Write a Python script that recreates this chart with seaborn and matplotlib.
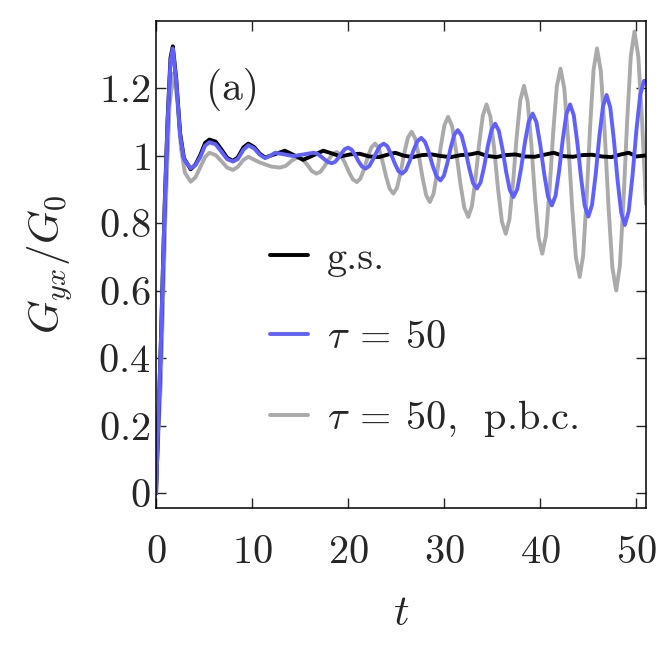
import matplotlib
matplotlib.use('Agg')
import matplotlib.pyplot as plt
import seaborn as sns
import pandas as pd

# values
t_gs = [0.0, 0.5, 0.9, 1.2, 1.5, 1.74, 2.1, 2.5, 2.9, 3.6,
        4.1, 4.6, 5.1, 5.55, 6.2, 6.8, 7.4, 8.0, 8.5, 9.1, 9.6,
        10.2, 10.8, 11.35, 12.4, 13.4, 14.35, 15.3, 16.35, 17.4, 18.3, 19.2,
        20.2, 21.2, 22.2, 23.2, 24.2, 24.9, 25.7, 26.7, 27.7, 28.7, 29.7, 30.7,
        31.7, 32.7, 33.5, 34.4, 35.4, 36.4, 37.4, 38.4, 39.4, 40.4, 41.4, 42.4,
        43.4, 44.4, 45.4, 46.4, 47.4, 48.4, 49.2, 50.0, 51.0]
g_gs = [0.0, 0.45, 0.86, 1.11, 1.29, 1.324, 1.228, 1.068, 0.993, 0.960,
        0.974, 1.002, 1.038, 1.048, 1.042, 1.019, 0.994, 0.985, 0.995, 1.025, 1.036,
        1.026, 1.006, 0.995, 1.005, 1.015, 1.002, 0.988, 1.001, 1.015, 1.007, 0.998,
        1.004, 1.006, 0.998, 0.996, 1.004, 1.009, 1.001, 0.996, 1.002, 1.004, 0.999, 0.996,
        1.002, 1.004, 1.009, 1.000, 0.996, 1.002, 1.004, 0.998, 0.997, 1.003, 1.009, 0.999,
        0.997, 1.002, 1.003, 0.998, 0.996, 1.004, 1.009, 0.998, 1.001]

t_tau = [0.0, 0.5, 0.9, 1.2, 1.5, 1.74, 2.1, 2.5, 2.9, 3.6,
         4.1, 4.6, 5.1, 5.55, 6.2, 6.8, 7.4, 8.0, 8.5, 9.1, 9.6,
         10.2, 10.8, 11.35, 11.9, 12.4, 13.35, 14.3, 15.35, 16.4,
         16.78, 17.16, 17.54, 17.92, 18.3, 18.64, 18.98, 19.32, 19.66, 20.0,
         20.36, 20.72, 21.08, 21.44, 21.8, 22.18, 22.56, 22.94, 23.32, 23.7,
         24.08, 24.46, 24.84, 25.22, 25.6, 26.0, 26.4, 26.8, 27.2, 27.6,
         28.0, 28.4, 28.8, 29.2, 29.6, 29.96, 30.32, 30.68, 31.04, 31.4,
         31.8, 32.2, 32.6, 33.0, 33.4, 33.78, 34.16, 34.54, 34.92, 35.3,
         35.68, 36.06, 36.44, 36.82, 37.2, 37.6, 38.0, 38.4, 38.8, 39.2,
         39.6, 40.0, 40.4, 40.8, 41.2, 41.58, 41.96, 42.34, 42.72, 43.1,
         43.48, 43.86, 44.24, 44.62, 45.0, 45.38, 45.76, 46.14, 46.52, 46.9,
         47.28, 47.66, 48.04, 48.42, 48.8, 49.2, 49.6, 50.0, 50.4, 50.8, 51.0]
g_tau = [0.0, 0.45, 0.85, 1.10, 1.28, 1.318, 1.22, 1.06, 0.99, 0.963,
         0.972, 0.996, 1.030, 1.040, 1.034, 1.012, 0.990, 0.983, 0.990, 1.018, 1.031,
         1.022, 1.003, 0.993, 1.000, 1.009, 1.004, 0.999, 1.004, 1.009,
         1.006, 0.998, 0.989, 0.981, 0.978, 0.982, 0.994, 1.008, 1.020, 1.024,
         1.018, 1.003, 0.983, 0.968, 0.962, 0.969, 0.988, 1.010, 1.029, 1.036,
         1.028, 1.005, 0.978, 0.955, 0.947, 0.957, 0.984, 1.016, 1.043, 1.053,
         1.041, 1.010, 0.970, 0.939, 0.927, 0.941, 0.978, 1.025, 1.062, 1.076,
         1.060, 1.016, 0.963, 0.919, 0.903, 0.921, 0.969, 1.029, 1.077, 1.095,
         1.074, 1.020, 0.953, 0.899, 0.878, 0.901, 0.963, 1.040, 1.102, 1.125,
         1.099, 1.031, 0.947, 0.879, 0.853, 0.881, 0.956, 1.049, 1.124, 1.152,
         1.120, 1.037, 0.935, 0.852, 0.820, 0.854, 0.944, 1.056, 1.146, 1.180,
         1.143, 1.047, 0.928, 0.832, 0.795, 0.836, 0.942, 1.075, 1.181, 1.222, 1.220]

t_pbc = [0.0, 0.5, 1.0, 1.4, 1.8, 2.2, 2.6, 3.0, 3.6,
         4.1, 4.6, 5.1, 5.55, 6.2, 6.8, 7.4, 8.0, 8.5, 9.1, 9.6,
         10.8, 12.0, 12.9, 13.5, 14.1, 14.7, 15.2, 15.7, 16.2, 16.7,
         17.12, 17.54, 17.96, 18.38, 18.8, 19.22, 19.64, 20.06, 20.48, 20.9,
         21.28, 21.66, 22.04, 22.42, 22.8, 23.18, 23.56, 23.94, 24.32, 24.7,
         25.08, 25.46, 25.84, 26.22, 26.6, 26.98, 27.36, 27.74, 28.12, 28.5,
         28.88, 29.26, 29.64, 30.02, 30.4, 30.82, 31.24, 31.66, 32.08, 32.5,
         32.88, 33.26, 33.64, 34.02, 34.4, 34.8, 35.2, 35.6, 36.0, 36.4,
         36.78, 37.16, 37.54, 37.92, 38.3, 38.68, 39.06, 39.44, 39.82, 40.2,
         40.58, 40.96, 41.34, 41.72, 42.1, 42.5, 42.9, 43.3, 43.7, 44.1,
         44.46, 44.82, 45.18, 45.54, 45.9, 46.3, 46.7, 47.1, 47.5, 47.9,
         48.28, 48.66, 49.04, 49.42, 49.8, 50.2, 50.6, 51.0]
g_pbc = [0.03, 0.33, 0.85, 1.15, 1.244, 1.17, 1.02, 0.95, 0.923,
         0.936, 0.966, 0.996, 1.009, 1.002, 0.984, 0.965, 0.958, 0.967, 0.988, 0.997,
         0.980, 0.968, 0.965, 0.970, 0.985, 0.995, 0.990, 0.975, 0.955, 0.947,
         0.953, 0.969, 0.989, 1.005, 1.011, 1.003, 0.980, 0.953, 0.930, 0.922,
         0.933, 0.961, 0.997, 1.025, 1.036, 1.022, 0.985, 0.939, 0.902, 0.888,
         0.905, 0.951, 1.008, 1.054, 1.071, 1.051, 0.999, 0.935, 0.883, 0.863,
         0.887, 0.950, 1.028, 1.091, 1.115, 1.087, 1.013, 0.921, 0.847, 0.819,
         0.851, 0.934, 1.037, 1.120, 1.152, 1.116, 1.020, 0.901, 0.805, 0.769,
         0.811, 0.920, 1.056, 1.165, 1.207, 1.160, 1.036, 0.881, 0.757, 0.710,
         0.762, 0.899, 1.069, 1.206, 1.258, 1.199, 1.045, 0.854, 0.700, 0.641,
         0.705, 0.875, 1.084, 1.254, 1.318, 1.250, 1.071, 0.848, 0.669, 0.601,
         0.674, 0.866, 1.103, 1.295, 1.368, 1.294, 1.099, 0.857]

x_ticks = [0, 10, 20, 30, 40, 50]
y_ticks = [0, 0.2, 0.4, 0.6, 0.8, 1.0, 1.2]
y_tick_labels = ['0', '0.2', '0.4', '0.6', '0.8', '1', '1.2']

sns.set_theme(style='ticks')
plt.rcParams['mathtext.fontset'] = 'cm'
plt.rcParams['font.family'] = ['cmr10', 'DejaVu Serif']
plt.rcParams['axes.formatter.use_mathtext'] = True

fig = plt.figure(figsize=(6.67, 6.57), dpi=100)
ax = fig.add_axes([0.234, 0.2263, 0.7345, 0.7422])

lw = 2.8
sns.lineplot(data=pd.DataFrame({'t': t_pbc, 'G': g_pbc}), x='t', y='G',
             color='#aaaaaa', lw=lw, estimator=None, ax=ax,
             label=r'$\tau\:=\:50,\;\;$p.b.c.')
sns.lineplot(data=pd.DataFrame({'t': t_gs, 'G': g_gs}), x='t', y='G',
             color='black', lw=lw, estimator=None, ax=ax,
             label='g.s.')
sns.lineplot(data=pd.DataFrame({'t': t_tau, 'G': g_tau}), x='t', y='G',
             color='#6060ff', lw=lw, estimator=None, ax=ax,
             label=r'$\tau\:=\:50$')
for ln in ax.get_lines():
    ln.set_solid_joinstyle('round')

ax.set_xlim(0, 51)
ax.set_ylim(-0.044, 1.40)
ax.set_xticks(x_ticks)
ax.set_xticklabels([f'${v}$' for v in x_ticks])
ax.set_yticks(y_ticks)
ax.set_yticklabels([f'${s}$' for s in y_tick_labels])
ax.tick_params(direction='in', top=True, right=True, length=7, width=1.0,
               labelsize=29)
ax.tick_params(axis='x', pad=19)
ax.tick_params(axis='y', pad=4)
for s in ax.spines.values():
    s.set_linewidth(1.1)
    s.set_color('black')

ax.set_xlabel(r'$t$', fontsize=31, labelpad=18)
ax.set_ylabel(r'$G_{yx}/G_0$', fontsize=31, labelpad=17)

ax.text(0.157, 0.858, '(a)', transform=ax.transAxes,
        fontsize=30, ha='center', va='center')

handles, labels = ax.get_legend_handles_labels()
order = [1, 2, 0]
leg = ax.legend([handles[i] for i in order], [labels[i] for i in order],
                loc='center left', bbox_to_anchor=(0.233, 0.345),
                frameon=False, fontsize=29,
                handlelength=0.95, handletextpad=0.45, labelspacing=1.05,
                borderpad=0, borderaxespad=0)

fig.savefig('out.png', dpi=100)
plt.close(fig)
